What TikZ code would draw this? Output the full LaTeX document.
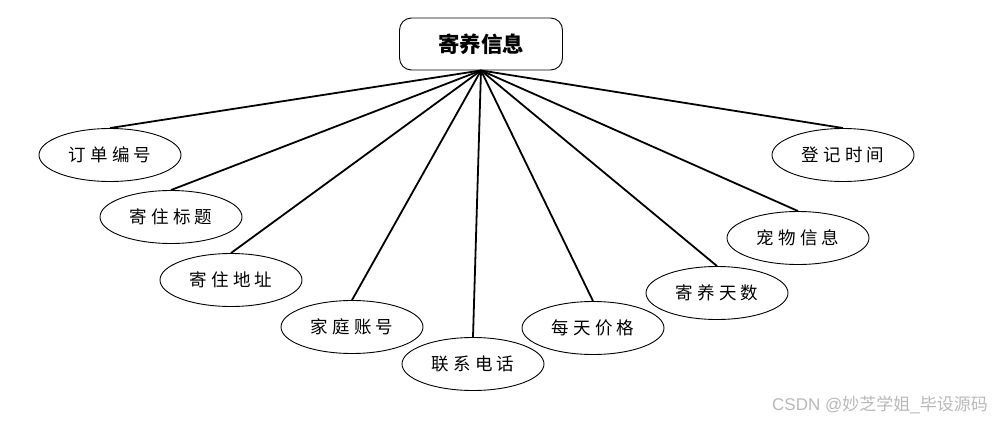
\documentclass[tikz,border=0pt]{standalone}
\usepackage{fontspec}
\newfontfamily\cjk{Noto Sans CJK SC}
\newfontfamily\cjkattr[LetterSpace=24]{Noto Sans CJK SC}
\newfontfamily\wmfont{Liberation Sans}
\usetikzlibrary{shapes.geometric}
\tikzset{
  attr/.style={ellipse, draw=black, line width=0.9pt, minimum width=142pt, minimum height=53pt, inner sep=0pt, font=\cjkattr\fontsize{17.5}{19}\selectfont},
  entity/.style={draw=black, line width=0.9pt, rounded corners=12pt, minimum width=163pt, minimum height=52pt, inner sep=0pt, font=\cjk\bfseries\fontsize{21.5}{23}\selectfont},
  link/.style={line width=1.8pt, draw=black}
}
\begin{document}
\begin{tikzpicture}[x=1pt,y=-1pt]
\useasboundingbox (0,0) rectangle (993,423);
\node[entity] (e) at (481,44) {寄养信息};
\node[attr] (a1) at (110,155) {订单编号};
\node[attr] (a2) at (171,217) {寄住标题};
\node[attr] (a3) at (231,280) {寄住地址};
\node[attr] (a4) at (352,327) {家庭账号};
\node[attr] (a5) at (473,364) {联系电话};
\node[attr] (a6) at (593,328) {每天价格};
\node[attr] (a7) at (717,293) {寄养天数};
\node[attr] (a8) at (798,238) {宠物信息};
\node[attr] (a9) at (843,155) {登记时间};
\foreach \i in {1,...,9} \draw[link] (e.south) -- (a\i.north);
\node[anchor=east, text=black!28, font=\wmfont\fontsize{17}{19}\selectfont, inner sep=0pt] (wm) at (988,405) {CSDN @{\cjk 妙芝学姐}\_{\cjk 毕设源码}};
\end{tikzpicture}
\end{document}
